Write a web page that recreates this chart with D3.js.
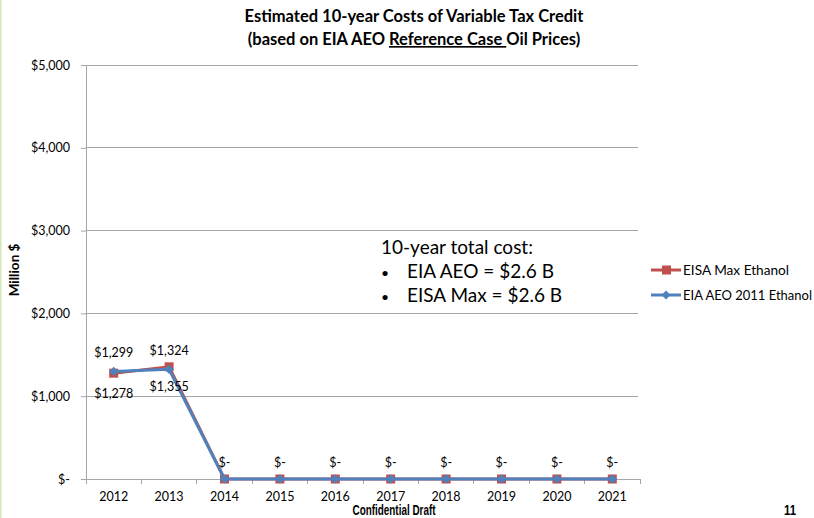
<!DOCTYPE html>
<html><head><meta charset="utf-8">
<script src="https://cdn.jsdelivr.net/npm/d3@7"></script>
<style>body{margin:0;background:#fff}svg{display:block}</style>
</head><body>
<svg id="c" width="814" height="518"></svg>
<script>
const years = ["2012","2013","2014","2015","2016","2017","2018","2019","2020","2021"];
const eisaMax = [1278,1355,0,0,0,0,0,0,0,0];
const eiaAeo = [1299,1324,0,0,0,0,0,0,0,0];
const yTicks = [0,1000,2000,3000,4000,5000];
const seriesNames = ["EISA Max Ethanol","EIA AEO 2011 Ethanol"];
const noteLines = ["10-year total cost:","EIA AEO = $2.6 B","EISA Max = $2.6 B"];

const svg = d3.select("#c");
const font = "Lato, 'Open Sans', sans-serif";
const m = {l:86, r:640, t:65, b:479};
const x = d3.scaleBand().domain(years).range([m.l, m.r]);
const y = d3.scaleLinear().domain([0,5000]).range([m.b, m.t]);
const fmt = v => v === 0 ? "$-" : "$" + d3.format(",")(v);

// left green edge
svg.append("rect").attr("x",0).attr("y",0).attr("width",1.5).attr("height",518).attr("fill","#d4e8b8");

// title
const t = svg.append("text").attr("x",414).attr("text-anchor","middle").attr("font-family",font)
  .attr("font-weight","bold").attr("font-size",16.5).attr("fill","#000");
t.append("tspan").attr("x",414).attr("y",22).text("Estimated 10-year Costs of Variable Tax Credit");
const t2 = t.append("tspan").attr("x",414).attr("y",45);
t2.append("tspan").text("(based on EIA AEO ");
t2.append("tspan").attr("text-decoration","underline").text("Reference Case ");
t2.append("tspan").text("Oil Prices)");

// gridlines
svg.append("g").selectAll("line").data(yTicks.filter(d=>d>0)).join("line")
  .attr("x1",m.l).attr("x2",m.r-2).attr("y1",d=>y(d)).attr("y2",d=>y(d))
  .attr("stroke","#a6a6a6").attr("stroke-width",1).attr("shape-rendering","crispEdges");

// y axis
const ya = svg.append("g").attr("transform",`translate(${m.l},0)`)
  .call(d3.axisLeft(y).tickValues(yTicks).tickSize(5).tickPadding(11).tickFormat(fmt));
ya.select(".domain").attr("stroke","#a6a6a6");
ya.selectAll(".tick line").attr("stroke","#a6a6a6");
ya.selectAll("text").attr("font-family",font).attr("font-size",12.5).attr("fill","#000");

// x axis
const xa = svg.append("g").attr("transform",`translate(0,${m.b})`)
  .call(d3.axisBottom(x).tickSize(0).tickPadding(13));
xa.select(".domain").attr("stroke","#a6a6a6");
xa.selectAll("text").attr("font-family",font).attr("font-size",12.5).attr("fill","#000");
svg.append("g").selectAll("line").data(years.concat(["end"])).join("line")
  .attr("x1",(d,i)=>m.l + i*x.bandwidth()).attr("x2",(d,i)=>m.l + i*x.bandwidth())
  .attr("y1",m.b).attr("y2",m.b+5).attr("stroke","#a6a6a6").attr("shape-rendering","crispEdges");

// y label
svg.append("text").attr("transform","translate(19,270) rotate(-90)").attr("text-anchor","middle")
  .attr("font-family",font).attr("font-weight","bold").attr("font-size",13.5).text("Million $");

const cx = d => x(d) + x.bandwidth()/2;
const line = d3.line().x((d,i)=>cx(years[i])).y(d=>y(d));

// red series
svg.append("path").datum(eisaMax).attr("d",line).attr("fill","none").attr("stroke","#c0504d").attr("stroke-width",3);
svg.append("g").selectAll("rect").data(eisaMax).join("rect")
  .attr("x",(d,i)=>cx(years[i])-4.5).attr("y",d=>y(d)-4.5).attr("width",9).attr("height",9)
  .attr("fill","#c0504d");
// blue series
svg.append("path").datum(eiaAeo).attr("d",line).attr("fill","none").attr("stroke","#4f81bd").attr("stroke-width",3);
svg.append("g").selectAll("path").data(eiaAeo).join("path")
  .attr("d",d3.symbol(d3.symbolDiamond2,55))
  .attr("transform",(d,i)=>`translate(${cx(years[i])},${y(d)})`).attr("fill","#4f81bd");

// data labels
const lab = svg.append("g").attr("font-family",font).attr("font-size",12.5).attr("text-anchor","middle");
eiaAeo.forEach((v,i)=>{
  if (v>0) lab.append("text").attr("x",cx(years[i])).attr("y",y(v)-14).text(fmt(v));
  else lab.append("text").attr("x",cx(years[i])).attr("y",y(v)-12).text(fmt(v));
});
eisaMax.forEach((v,i)=>{
  if (v>0) lab.append("text").attr("x",cx(years[i])).attr("y",y(v)+(i===0?25:24)).text(fmt(v));
});

// note
const note = svg.append("g").attr("font-family",font).attr("font-size",19).attr("fill","#000");
note.append("text").attr("x",381).attr("y",254).text(noteLines[0]);
[noteLines[1],noteLines[2]].forEach((s,i)=>{
  note.append("text").attr("x",381).attr("y",278+i*24).attr("font-size",14).text("•");
  note.append("text").attr("x",407).attr("y",278+i*24).text(s);
});

// legend
const lg = svg.append("g").attr("font-family",font).attr("font-size",13);
[[seriesNames[0],"#c0504d","sq",270,106],[seriesNames[1],"#4f81bd","di",295,129]].forEach(([n,c,s,yy,w])=>{
  lg.append("line").attr("x1",651).attr("x2",681).attr("y1",yy).attr("y2",yy).attr("stroke",c).attr("stroke-width",3);
  if (s==="sq") lg.append("rect").attr("x",662).attr("y",yy-4.5).attr("width",9).attr("height",9).attr("fill",c);
  else lg.append("path").attr("d",d3.symbol(d3.symbolDiamond2,50)).attr("transform",`translate(666,${yy})`).attr("fill",c);
  lg.append("text").attr("x",683).attr("y",yy+4.5).attr("textLength",w).attr("lengthAdjust","spacingAndGlyphs").text(n);
});

// footer
svg.append("text").attr("x",394).attr("y",515).attr("text-anchor","middle").attr("font-family","'Liberation Sans', sans-serif")
  .attr("font-weight","bold").attr("font-size",15).attr("textLength",83).attr("lengthAdjust","spacingAndGlyphs").text("Confidential Draft");
svg.append("text").attr("x",790).attr("y",515).attr("text-anchor","middle").attr("font-family","'Liberation Sans', sans-serif")
  .attr("font-weight","bold").attr("font-size",15).attr("textLength",12).attr("lengthAdjust","spacingAndGlyphs").text("11");
</script>
</body></html>
